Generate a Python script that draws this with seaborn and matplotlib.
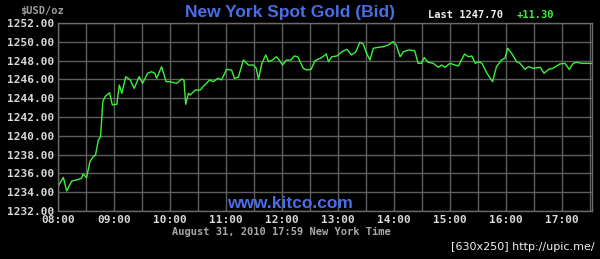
import matplotlib
matplotlib.use("Agg")
import matplotlib.pyplot as plt
import seaborn as sns
import pandas as pd
import numpy as np

# time in decimal hours (New York time), bid price in USD/oz
hours = [8.00, 8.095, 8.155, 8.245, 8.33, 8.42, 8.45, 8.51, 8.57, 8.63, 8.67, 8.72, 8.76,
         8.80, 8.84, 8.92, 8.97, 9.05, 9.095, 9.14, 9.21, 9.29, 9.36, 9.45, 9.51, 9.60,
         9.67, 9.73, 9.76, 9.85, 9.93, 10.00, 10.12, 10.21, 10.25, 10.28, 10.33, 10.36,
         10.45, 10.54, 10.59, 10.71, 10.77, 10.86, 10.92, 11.01, 11.10, 11.15, 11.22,
         11.31, 11.40, 11.49, 11.54, 11.58, 11.64, 11.71, 11.76, 11.83, 11.90, 11.95,
         12.01, 12.08, 12.16, 12.22, 12.28, 12.38, 12.44, 12.52, 12.59, 12.68, 12.73,
         12.79, 12.83, 12.89, 12.98, 13.07, 13.16, 13.24, 13.32, 13.39, 13.45, 13.51,
         13.57, 13.63, 13.72, 13.81, 13.90, 13.98, 14.04, 14.11, 14.17, 14.26, 14.37,
         14.43, 14.49, 14.54, 14.61, 14.70, 14.79, 14.85, 14.91, 15.00, 15.09, 15.15,
         15.26, 15.33, 15.39, 15.45, 15.51, 15.57, 15.66, 15.76, 15.83, 15.92, 15.98,
         16.03, 16.10, 16.19, 16.25, 16.34, 16.40, 16.49, 16.61, 16.68, 16.76, 16.84,
         16.96, 17.05, 17.13, 17.20, 17.26, 17.35, 17.53]
prices = [1234.59, 1235.58, 1234.13, 1235.19, 1235.30, 1235.48, 1235.94, 1235.54, 1237.25,
          1237.78, 1237.96, 1239.55, 1239.90, 1243.63, 1244.16, 1244.59, 1243.28, 1243.35,
          1245.40, 1244.52, 1246.29, 1245.94, 1245.05, 1246.29, 1245.58, 1246.65, 1246.82,
          1246.65, 1246.12, 1247.35, 1245.76, 1245.76, 1245.58, 1246.04, 1245.90, 1243.35,
          1244.52, 1244.34, 1244.87, 1244.87, 1245.22, 1245.94, 1245.76, 1246.12, 1245.94,
          1247.07, 1247.00, 1246.12, 1246.22, 1248.06, 1247.53, 1247.53, 1247.18, 1246.01,
          1247.71, 1248.60, 1247.88, 1248.06, 1248.41, 1248.06, 1247.53, 1248.06, 1248.06,
          1248.49, 1248.41, 1247.18, 1247.00, 1247.07, 1247.99, 1248.24, 1248.41, 1248.70,
          1247.88, 1248.41, 1248.49, 1248.95, 1249.20, 1248.60, 1248.95, 1249.95, 1249.77,
          1248.78, 1248.06, 1249.31, 1249.41, 1249.48, 1249.66, 1250.01, 1249.66, 1248.41,
          1248.95, 1249.13, 1249.05, 1247.71, 1247.71, 1248.31, 1247.82, 1247.71, 1247.29,
          1247.53, 1247.29, 1247.71, 1247.53, 1247.43, 1248.70, 1248.41, 1248.49, 1247.71,
          1247.88, 1247.71, 1246.65, 1245.76, 1247.35, 1248.06, 1248.24, 1249.31, 1248.78,
          1247.88, 1247.71, 1247.07, 1247.35, 1247.18, 1247.29, 1246.65, 1247.07, 1247.18,
          1247.64, 1247.71, 1247.07, 1247.71, 1247.82, 1247.71, 1247.70]
y_ticks = [1232, 1234, 1236, 1238, 1240, 1242, 1244, 1246, 1248, 1250, 1252]
x_ticks = [8, 9, 10, 11, 12, 13, 14, 15, 16, 17]
x_labels = ["08:00", "09:00", "10:00", "11:00", "12:00", "13:00", "14:00", "15:00", "16:00", "17:00"]

df = pd.DataFrame({"hour": hours, "price": prices})

sns.set_theme(style="dark")
plt.rcParams["font.family"] = ["DejaVu Sans"]

fig = plt.figure(figsize=(6.0, 2.59), dpi=100, facecolor="black")
ax = fig.add_axes([58 / 600, 1 - 211 / 259, (592 - 58) / 600, (211 - 23) / 259])
ax.set_facecolor("black")

sns.lineplot(data=df, x="hour", y="price", ax=ax, color="#3cf03c", linewidth=1.0)

ax.set_xlim(8, 8 + (592 - 58) / 56)
ax.set_ylim(1232, 1252)
ax.set_xticks(x_ticks)
ax.set_xticklabels(x_labels)
ax.set_xticks(np.arange(8.5, 17.6, 1.0), minor=True)
ax.set_yticks(y_ticks)
ax.set_yticklabels([f"{v:.2f}" for v in y_ticks])
ax.grid(True, which="both", color="#5e5e5e", linewidth=1.0)
ax.set_axisbelow(True)
for s in ax.spines.values():
    s.set_color("#6a6a6a")
    s.set_linewidth(1.0)
ax.tick_params(which="both", length=0, pad=3, colors="#d8d8d8",
               labelsize=8)
for lab in ax.get_xticklabels() + ax.get_yticklabels():
    lab.set_fontfamily("DejaVu Sans Mono")
    lab.set_fontweight("bold")
ax.set_xlabel("")
ax.set_ylabel("")

fig.text(290 / 600, 1 - 12 / 259, "New York Spot Gold (Bid)", color="#4a6ee8",
         fontsize=12.5, fontweight="bold", family="Liberation Sans", ha="center", va="center")
fig.text(20 / 600, 1 - 11 / 259, "$USD/oz", color="#a0a0a0", fontsize=7.5,
         family="DejaVu Sans Mono", fontweight="bold", ha="left", va="center")
fig.text(428 / 600, 1 - 15 / 259, "Last 1247.70", color="#f0f0f0", fontsize=7.5,
         family="DejaVu Sans Mono", fontweight="bold", ha="left", va="center")
fig.text(517 / 600, 1 - 15 / 259, "+11.30", color="#3cf03c", fontsize=7.5,
         family="DejaVu Sans Mono", fontweight="bold", ha="left", va="center")
fig.text(290 / 600, 1 - 203 / 259, "www.kitco.com", color="#4a6ee8", fontsize=12.5,
         fontweight="bold", family="Liberation Sans", ha="center", va="center")
fig.text(281 / 600, 1 - 232 / 259, "August 31, 2010 17:59 New York Time", color="#a8a8a8",
         fontsize=7.5, family="DejaVu Sans Mono", fontweight="bold", ha="center", va="center")
fig.text(595 / 600, 1 - 247 / 259, "[630x250] http://upic.me/", color="#f0f0f0",
         fontsize=8, family="DejaVu Sans", ha="right", va="center")

fig.savefig("out.png", dpi=100, facecolor="black")
